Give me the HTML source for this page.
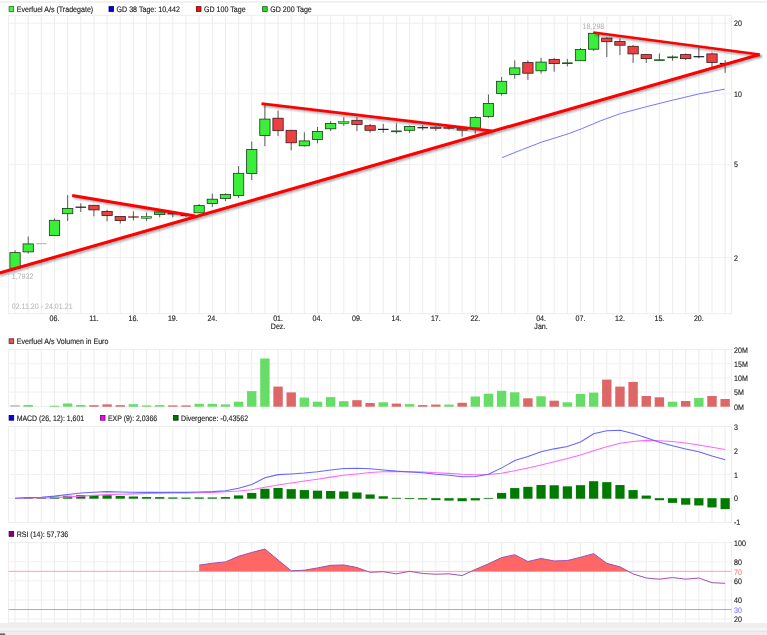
<!DOCTYPE html><html><head><meta charset="utf-8"><title>Chart</title><style>html,body{margin:0;padding:0;background:#fff;}svg{display:block}text{font-family:"Liberation Sans",Arial,sans-serif;font-size:8px;fill:#1c1c1c;stroke:#1c1c1c;stroke-width:0.14px;text-rendering:geometricPrecision}</style></head><body>
<svg width="767" height="635" viewBox="0 0 767 635">
<defs><filter id="sh" x="-5%" y="-5%" width="110%" height="110%"><feGaussianBlur stdDeviation="1.1"/></filter></defs>
<rect width="767" height="635" fill="#fff"/>
<rect x="0" y="1.3" width="767" height="1.4" fill="#ececec"/>
<rect x="0" y="623" width="767" height="12" fill="#eeeeee"/>
<rect x="0" y="627.7" width="767" height="2.9" fill="#f5f5f5"/>
<rect x="0" y="630.6" width="767" height="1.5" fill="#e6e6e6"/>
<rect x="0" y="633.4" width="5.2" height="1.6" fill="#666"/>
<g stroke="#ebebeb" stroke-width="0.9" fill="none"><line x1="15.05" y1="15.3" x2="15.05" y2="313.7"/><line x1="28.20" y1="15.3" x2="28.20" y2="313.7"/><line x1="41.35" y1="15.3" x2="41.35" y2="313.7"/><line x1="54.50" y1="15.3" x2="54.50" y2="313.7"/><line x1="67.65" y1="15.3" x2="67.65" y2="313.7"/><line x1="80.80" y1="15.3" x2="80.80" y2="313.7"/><line x1="93.95" y1="15.3" x2="93.95" y2="313.7"/><line x1="107.10" y1="15.3" x2="107.10" y2="313.7"/><line x1="120.25" y1="15.3" x2="120.25" y2="313.7"/><line x1="133.40" y1="15.3" x2="133.40" y2="313.7"/><line x1="146.55" y1="15.3" x2="146.55" y2="313.7"/><line x1="159.70" y1="15.3" x2="159.70" y2="313.7"/><line x1="172.85" y1="15.3" x2="172.85" y2="313.7"/><line x1="186.00" y1="15.3" x2="186.00" y2="313.7"/><line x1="199.15" y1="15.3" x2="199.15" y2="313.7"/><line x1="212.30" y1="15.3" x2="212.30" y2="313.7"/><line x1="225.45" y1="15.3" x2="225.45" y2="313.7"/><line x1="238.60" y1="15.3" x2="238.60" y2="313.7"/><line x1="251.75" y1="15.3" x2="251.75" y2="313.7"/><line x1="264.90" y1="15.3" x2="264.90" y2="313.7"/><line x1="278.05" y1="15.3" x2="278.05" y2="313.7"/><line x1="291.20" y1="15.3" x2="291.20" y2="313.7"/><line x1="304.35" y1="15.3" x2="304.35" y2="313.7"/><line x1="317.50" y1="15.3" x2="317.50" y2="313.7"/><line x1="330.65" y1="15.3" x2="330.65" y2="313.7"/><line x1="343.80" y1="15.3" x2="343.80" y2="313.7"/><line x1="356.95" y1="15.3" x2="356.95" y2="313.7"/><line x1="370.10" y1="15.3" x2="370.10" y2="313.7"/><line x1="383.25" y1="15.3" x2="383.25" y2="313.7"/><line x1="396.40" y1="15.3" x2="396.40" y2="313.7"/><line x1="409.55" y1="15.3" x2="409.55" y2="313.7"/><line x1="422.70" y1="15.3" x2="422.70" y2="313.7"/><line x1="435.85" y1="15.3" x2="435.85" y2="313.7"/><line x1="449.00" y1="15.3" x2="449.00" y2="313.7"/><line x1="462.15" y1="15.3" x2="462.15" y2="313.7"/><line x1="475.30" y1="15.3" x2="475.30" y2="313.7"/><line x1="488.45" y1="15.3" x2="488.45" y2="313.7"/><line x1="501.60" y1="15.3" x2="501.60" y2="313.7"/><line x1="514.75" y1="15.3" x2="514.75" y2="313.7"/><line x1="527.90" y1="15.3" x2="527.90" y2="313.7"/><line x1="541.05" y1="15.3" x2="541.05" y2="313.7"/><line x1="554.20" y1="15.3" x2="554.20" y2="313.7"/><line x1="567.35" y1="15.3" x2="567.35" y2="313.7"/><line x1="580.50" y1="15.3" x2="580.50" y2="313.7"/><line x1="593.65" y1="15.3" x2="593.65" y2="313.7"/><line x1="606.80" y1="15.3" x2="606.80" y2="313.7"/><line x1="619.95" y1="15.3" x2="619.95" y2="313.7"/><line x1="633.10" y1="15.3" x2="633.10" y2="313.7"/><line x1="646.25" y1="15.3" x2="646.25" y2="313.7"/><line x1="659.40" y1="15.3" x2="659.40" y2="313.7"/><line x1="672.55" y1="15.3" x2="672.55" y2="313.7"/><line x1="685.70" y1="15.3" x2="685.70" y2="313.7"/><line x1="698.85" y1="15.3" x2="698.85" y2="313.7"/><line x1="712.00" y1="15.3" x2="712.00" y2="313.7"/><line x1="725.15" y1="15.3" x2="725.15" y2="313.7"/><line x1="8.6" y1="23.2" x2="731.6" y2="23.2" stroke="#eeeeee"/><line x1="8.6" y1="93.8" x2="731.6" y2="93.8" stroke="#eeeeee"/><line x1="8.6" y1="164.4" x2="731.6" y2="164.4" stroke="#eeeeee"/><line x1="8.6" y1="257.7" x2="731.6" y2="257.7" stroke="#eeeeee"/><rect x="8.6" y="15.3" width="723.0" height="298.4"/></g>
<rect x="9.10" y="6.60" width="4.6" height="4.8" fill="#44f544" stroke="#1e6e1e" stroke-width="0.8"/>
<text transform="translate(16.70 11.70) scale(0.885 1)">Everfuel A/s (Tradegate)</text>
<rect x="109.00" y="6.60" width="4.6" height="4.8" fill="#0000dd" stroke="#000063" stroke-width="0.8"/>
<text transform="translate(116.60 11.70) scale(0.885 1)">GD 38 Tage: 10,442</text>
<rect x="196.40" y="6.60" width="4.6" height="4.8" fill="#ee1111" stroke="#6b0707" stroke-width="0.8"/>
<text transform="translate(204.00 11.70) scale(0.885 1)">GD 100 Tage</text>
<rect x="262.60" y="6.60" width="4.6" height="4.8" fill="#22dd22" stroke="#0f630f" stroke-width="0.8"/>
<text transform="translate(270.20 11.70) scale(0.885 1)">GD 200 Tage</text>
<text transform="translate(734.00 26.20) scale(0.885 1)">20</text>
<text transform="translate(734.00 96.80) scale(0.885 1)">10</text>
<text transform="translate(734.00 167.40) scale(0.885 1)">5</text>
<text transform="translate(734.00 260.70) scale(0.885 1)">2</text>
<text transform="translate(54.50 321.00) scale(0.885 1)" text-anchor="middle">06.</text>
<text transform="translate(93.95 321.00) scale(0.885 1)" text-anchor="middle">11.</text>
<text transform="translate(133.40 321.00) scale(0.885 1)" text-anchor="middle">16.</text>
<text transform="translate(172.85 321.00) scale(0.885 1)" text-anchor="middle">19.</text>
<text transform="translate(212.30 321.00) scale(0.885 1)" text-anchor="middle">24.</text>
<text transform="translate(278.05 321.00) scale(0.885 1)" text-anchor="middle">01.</text>
<text transform="translate(317.50 321.00) scale(0.885 1)" text-anchor="middle">04.</text>
<text transform="translate(356.95 321.00) scale(0.885 1)" text-anchor="middle">09.</text>
<text transform="translate(396.40 321.00) scale(0.885 1)" text-anchor="middle">14.</text>
<text transform="translate(435.85 321.00) scale(0.885 1)" text-anchor="middle">17.</text>
<text transform="translate(475.30 321.00) scale(0.885 1)" text-anchor="middle">22.</text>
<text transform="translate(541.05 321.00) scale(0.885 1)" text-anchor="middle">04.</text>
<text transform="translate(580.50 321.00) scale(0.885 1)" text-anchor="middle">07.</text>
<text transform="translate(619.95 321.00) scale(0.885 1)" text-anchor="middle">12.</text>
<text transform="translate(659.40 321.00) scale(0.885 1)" text-anchor="middle">15.</text>
<text transform="translate(698.85 321.00) scale(0.885 1)" text-anchor="middle">20.</text>
<text transform="translate(278.05 329.00) scale(0.885 1)" text-anchor="middle">Dez.</text>
<text transform="translate(541.05 329.00) scale(0.885 1)" text-anchor="middle">Jan.</text>
<text transform="translate(11.70 278.50) scale(0.885 1)" style="fill:#b0b0b4;stroke:none">1,7932</text>
<text transform="translate(11.70 308.60) scale(0.885 1)" style="fill:#b0b0b4;stroke:none">02.11.20 - 24.01.21</text>
<text transform="translate(582.60 28.70) scale(0.885 1)" style="fill:#b0b0b4;stroke:none">18,298</text>
<polyline fill="none" stroke="#7777ff" stroke-width="1.0" points="502.1,157.6 522.6,149.4 542.2,141.9 568.2,133.8 581.3,128.9 600.8,120.7 620.4,113.6 646.4,106.7 672.5,100.2 698.6,94 724.7,89.1"/>
<line x1="15.05" y1="250.3" x2="15.05" y2="269.2" stroke="#333" stroke-width="0.8"/>
<rect x="9.90" y="252.6" width="10.3" height="15.70" fill="#3aee3a" stroke="#1a3a1a" stroke-width="0.8"/>
<line x1="28.20" y1="236.5" x2="28.20" y2="253.5" stroke="#333" stroke-width="0.8"/>
<rect x="23.05" y="243.9" width="10.3" height="8.00" fill="#3aee3a" stroke="#1a3a1a" stroke-width="0.8"/>
<line x1="36.15" y1="243.7" x2="46.55" y2="243.7" stroke="#999" stroke-width="0.8"/>
<line x1="54.50" y1="218.4" x2="54.50" y2="235.6" stroke="#333" stroke-width="0.8"/>
<rect x="49.35" y="220.3" width="10.3" height="15.30" fill="#3aee3a" stroke="#1a3a1a" stroke-width="0.8"/>
<line x1="67.65" y1="195.1" x2="67.65" y2="221" stroke="#333" stroke-width="0.8"/>
<rect x="62.50" y="208.4" width="10.3" height="5.30" fill="#3aee3a" stroke="#1a3a1a" stroke-width="0.8"/>
<line x1="80.80" y1="203.3" x2="80.80" y2="212" stroke="#333" stroke-width="0.8"/>
<line x1="75.50" y1="207.2" x2="86.10" y2="207.2" stroke="#1a1a1a" stroke-width="1.2"/>
<line x1="93.95" y1="205.3" x2="93.95" y2="216.3" stroke="#333" stroke-width="0.8"/>
<rect x="88.80" y="205.3" width="10.3" height="4.60" fill="#ee4040" stroke="#3a1a1a" stroke-width="0.8"/>
<line x1="107.10" y1="209.7" x2="107.10" y2="221.4" stroke="#333" stroke-width="0.8"/>
<rect x="101.95" y="211.4" width="10.3" height="4.20" fill="#ee4040" stroke="#3a1a1a" stroke-width="0.8"/>
<line x1="120.25" y1="216.5" x2="120.25" y2="223.5" stroke="#333" stroke-width="0.8"/>
<rect x="115.10" y="216.5" width="10.3" height="4.00" fill="#ee4040" stroke="#3a1a1a" stroke-width="0.8"/>
<line x1="133.40" y1="211.3" x2="133.40" y2="220.4" stroke="#333" stroke-width="0.8"/>
<line x1="128.10" y1="217" x2="138.70" y2="217" stroke="#6a1515" stroke-width="1.2"/>
<line x1="146.55" y1="212.6" x2="146.55" y2="221.1" stroke="#333" stroke-width="0.8"/>
<rect x="141.40" y="216.4" width="10.3" height="1.90" fill="#3aee3a" stroke="#1a3a1a" stroke-width="0.5"/>
<line x1="159.70" y1="211.3" x2="159.70" y2="217.3" stroke="#333" stroke-width="0.8"/>
<rect x="154.55" y="211.9" width="10.3" height="2.60" fill="#3aee3a" stroke="#1a3a1a" stroke-width="0.8"/>
<line x1="172.85" y1="211.7" x2="172.85" y2="217.3" stroke="#333" stroke-width="0.8"/>
<line x1="167.55" y1="213.7" x2="178.15" y2="213.7" stroke="#1a1a1a" stroke-width="1.2"/>
<line x1="186.00" y1="214" x2="186.00" y2="217" stroke="#333" stroke-width="0.8"/>
<line x1="180.70" y1="215.4" x2="191.30" y2="215.4" stroke="#1a1a1a" stroke-width="1.2"/>
<line x1="199.15" y1="204.1" x2="199.15" y2="212.8" stroke="#333" stroke-width="0.8"/>
<rect x="194.00" y="205.6" width="10.3" height="7.20" fill="#3aee3a" stroke="#1a3a1a" stroke-width="0.8"/>
<line x1="212.30" y1="193.7" x2="212.30" y2="206.9" stroke="#333" stroke-width="0.8"/>
<rect x="207.15" y="199.2" width="10.3" height="4.30" fill="#3aee3a" stroke="#1a3a1a" stroke-width="0.8"/>
<line x1="225.45" y1="193.3" x2="225.45" y2="201.1" stroke="#333" stroke-width="0.8"/>
<rect x="220.30" y="194.5" width="10.3" height="3.90" fill="#3aee3a" stroke="#1a3a1a" stroke-width="0.8"/>
<line x1="238.60" y1="166" x2="238.60" y2="198" stroke="#333" stroke-width="0.8"/>
<rect x="233.45" y="173.3" width="10.3" height="22.20" fill="#3aee3a" stroke="#1a3a1a" stroke-width="0.8"/>
<line x1="251.75" y1="141.5" x2="251.75" y2="180" stroke="#333" stroke-width="0.8"/>
<rect x="246.60" y="149.4" width="10.3" height="24.20" fill="#3aee3a" stroke="#1a3a1a" stroke-width="0.8"/>
<line x1="264.90" y1="103.6" x2="264.90" y2="146.2" stroke="#333" stroke-width="0.8"/>
<rect x="259.75" y="119.1" width="10.3" height="16.40" fill="#3aee3a" stroke="#1a3a1a" stroke-width="0.8"/>
<line x1="278.05" y1="110.6" x2="278.05" y2="136.1" stroke="#333" stroke-width="0.8"/>
<rect x="272.90" y="118.2" width="10.3" height="12.50" fill="#ee4040" stroke="#3a1a1a" stroke-width="0.8"/>
<line x1="291.20" y1="130.3" x2="291.20" y2="150.3" stroke="#333" stroke-width="0.8"/>
<rect x="286.05" y="130.3" width="10.3" height="12.50" fill="#ee4040" stroke="#3a1a1a" stroke-width="0.8"/>
<line x1="304.35" y1="132.4" x2="304.35" y2="146.5" stroke="#333" stroke-width="0.8"/>
<rect x="299.20" y="140.9" width="10.3" height="4.90" fill="#3aee3a" stroke="#1a3a1a" stroke-width="0.8"/>
<line x1="317.50" y1="126.9" x2="317.50" y2="143.3" stroke="#333" stroke-width="0.8"/>
<rect x="312.35" y="131.4" width="10.3" height="8.00" fill="#3aee3a" stroke="#1a3a1a" stroke-width="0.8"/>
<line x1="330.65" y1="121.2" x2="330.65" y2="131" stroke="#333" stroke-width="0.8"/>
<rect x="325.50" y="123.5" width="10.3" height="5.30" fill="#3aee3a" stroke="#1a3a1a" stroke-width="0.8"/>
<line x1="343.80" y1="117.2" x2="343.80" y2="125.9" stroke="#333" stroke-width="0.8"/>
<rect x="338.65" y="121.6" width="10.3" height="2.10" fill="#3aee3a" stroke="#1a3a1a" stroke-width="0.5"/>
<line x1="356.95" y1="117.2" x2="356.95" y2="131" stroke="#333" stroke-width="0.8"/>
<rect x="351.80" y="120.3" width="10.3" height="4.10" fill="#ee4040" stroke="#3a1a1a" stroke-width="0.8"/>
<line x1="370.10" y1="124" x2="370.10" y2="132.6" stroke="#333" stroke-width="0.8"/>
<rect x="364.95" y="125.7" width="10.3" height="4.60" fill="#ee4040" stroke="#3a1a1a" stroke-width="0.8"/>
<line x1="383.25" y1="123.9" x2="383.25" y2="132.8" stroke="#333" stroke-width="0.8"/>
<line x1="377.95" y1="129.4" x2="388.55" y2="129.4" stroke="#1a1a1a" stroke-width="1.2"/>
<line x1="396.40" y1="123.3" x2="396.40" y2="133.7" stroke="#333" stroke-width="0.8"/>
<line x1="391.10" y1="131.3" x2="401.70" y2="131.3" stroke="#156015" stroke-width="1.6"/>
<line x1="409.55" y1="125.6" x2="409.55" y2="132.8" stroke="#333" stroke-width="0.8"/>
<rect x="404.40" y="126.5" width="10.3" height="3.80" fill="#3aee3a" stroke="#1a3a1a" stroke-width="0.8"/>
<line x1="422.70" y1="125.2" x2="422.70" y2="130.3" stroke="#333" stroke-width="0.8"/>
<line x1="417.40" y1="127.7" x2="428.00" y2="127.7" stroke="#1a1a1a" stroke-width="1.2"/>
<line x1="435.85" y1="125.8" x2="435.85" y2="130.9" stroke="#333" stroke-width="0.8"/>
<rect x="430.70" y="127.1" width="10.3" height="1.50" fill="#ee4040" stroke="#3a1a1a" stroke-width="0.5"/>
<line x1="449.00" y1="126.5" x2="449.00" y2="129.5" stroke="#333" stroke-width="0.8"/>
<rect x="443.85" y="127.5" width="10.3" height="0.90" fill="#ee4040" stroke="#3a1a1a" stroke-width="0.5"/>
<line x1="462.15" y1="127.5" x2="462.15" y2="136.6" stroke="#333" stroke-width="0.8"/>
<rect x="457.00" y="128.4" width="10.3" height="1.90" fill="#ee4040" stroke="#3a1a1a" stroke-width="0.5"/>
<line x1="475.30" y1="116.1" x2="475.30" y2="133.7" stroke="#333" stroke-width="0.8"/>
<rect x="470.15" y="117.5" width="10.3" height="10.50" fill="#3aee3a" stroke="#1a3a1a" stroke-width="0.8"/>
<line x1="488.45" y1="94.4" x2="488.45" y2="117.8" stroke="#333" stroke-width="0.8"/>
<rect x="483.30" y="103.4" width="10.3" height="13.10" fill="#3aee3a" stroke="#1a3a1a" stroke-width="0.8"/>
<line x1="501.60" y1="77" x2="501.60" y2="95.7" stroke="#333" stroke-width="0.8"/>
<rect x="496.45" y="81.3" width="10.3" height="12.10" fill="#3aee3a" stroke="#1a3a1a" stroke-width="0.8"/>
<line x1="514.75" y1="60.4" x2="514.75" y2="78.7" stroke="#333" stroke-width="0.8"/>
<rect x="509.60" y="67.9" width="10.3" height="6.60" fill="#3aee3a" stroke="#1a3a1a" stroke-width="0.8"/>
<line x1="527.90" y1="60.4" x2="527.90" y2="79.8" stroke="#333" stroke-width="0.8"/>
<rect x="522.75" y="62.6" width="10.3" height="10.60" fill="#ee4040" stroke="#3a1a1a" stroke-width="0.8"/>
<line x1="541.05" y1="57.9" x2="541.05" y2="73.6" stroke="#333" stroke-width="0.8"/>
<rect x="535.90" y="62.1" width="10.3" height="8.70" fill="#3aee3a" stroke="#1a3a1a" stroke-width="0.8"/>
<line x1="554.20" y1="57.9" x2="554.20" y2="71.7" stroke="#333" stroke-width="0.8"/>
<rect x="549.05" y="59.4" width="10.3" height="4.20" fill="#ee4040" stroke="#3a1a1a" stroke-width="0.8"/>
<line x1="567.35" y1="58.9" x2="567.35" y2="66.4" stroke="#333" stroke-width="0.8"/>
<line x1="562.05" y1="63.2" x2="572.65" y2="63.2" stroke="#156015" stroke-width="1.6"/>
<line x1="580.50" y1="48.1" x2="580.50" y2="60.7" stroke="#333" stroke-width="0.8"/>
<rect x="575.35" y="49.4" width="10.3" height="11.30" fill="#3aee3a" stroke="#1a3a1a" stroke-width="0.8"/>
<line x1="593.65" y1="32" x2="593.65" y2="50.9" stroke="#333" stroke-width="0.8"/>
<rect x="588.50" y="33.3" width="10.3" height="15.90" fill="#3aee3a" stroke="#1a3a1a" stroke-width="0.8"/>
<line x1="606.80" y1="37.3" x2="606.80" y2="57" stroke="#333" stroke-width="0.8"/>
<rect x="601.65" y="38.1" width="10.3" height="3.60" fill="#ee4040" stroke="#3a1a1a" stroke-width="0.8"/>
<line x1="619.95" y1="38.6" x2="619.95" y2="55.1" stroke="#333" stroke-width="0.8"/>
<rect x="614.80" y="41.5" width="10.3" height="3.70" fill="#ee4040" stroke="#3a1a1a" stroke-width="0.8"/>
<line x1="633.10" y1="45" x2="633.10" y2="62.9" stroke="#333" stroke-width="0.8"/>
<rect x="627.95" y="46.3" width="10.3" height="7.60" fill="#ee4040" stroke="#3a1a1a" stroke-width="0.8"/>
<line x1="646.25" y1="54" x2="646.25" y2="62.9" stroke="#333" stroke-width="0.8"/>
<rect x="641.10" y="54.6" width="10.3" height="4.00" fill="#ee4040" stroke="#3a1a1a" stroke-width="0.8"/>
<line x1="659.40" y1="53.5" x2="659.40" y2="60.7" stroke="#333" stroke-width="0.8"/>
<line x1="654.10" y1="60.1" x2="664.70" y2="60.1" stroke="#156015" stroke-width="1.6"/>
<line x1="672.55" y1="55.4" x2="672.55" y2="60.7" stroke="#333" stroke-width="0.8"/>
<line x1="667.25" y1="57.3" x2="677.85" y2="57.3" stroke="#156015" stroke-width="1.6"/>
<line x1="685.70" y1="53.5" x2="685.70" y2="60.1" stroke="#333" stroke-width="0.8"/>
<rect x="680.55" y="54.6" width="10.3" height="4.00" fill="#ee4040" stroke="#3a1a1a" stroke-width="0.8"/>
<line x1="698.85" y1="47.4" x2="698.85" y2="58.2" stroke="#333" stroke-width="0.8"/>
<line x1="693.55" y1="56.7" x2="704.15" y2="56.7" stroke="#1a1a1a" stroke-width="1.2"/>
<line x1="712.00" y1="52.5" x2="712.00" y2="67.7" stroke="#333" stroke-width="0.8"/>
<rect x="706.85" y="53.9" width="10.3" height="8.50" fill="#ee4040" stroke="#3a1a1a" stroke-width="0.8"/>
<line x1="725.15" y1="60.1" x2="725.15" y2="72.8" stroke="#333" stroke-width="0.8"/>
<line x1="719.85" y1="63.5" x2="730.45" y2="63.5" stroke="#1a1a1a" stroke-width="1.2"/>
<g stroke="#123" stroke-opacity="0.42" stroke-width="2.4" filter="url(#sh)" fill="none">
<line x1="-0.19999999999999996" y1="275.3" x2="761.4" y2="56.199999999999996"/>
<line x1="74.0" y1="197.3" x2="197.10000000000002" y2="217.8"/>
<line x1="263.3" y1="105.39999999999999" x2="493.6" y2="132.70000000000002"/>
<line x1="595.1999999999999" y1="34.199999999999996" x2="761.4" y2="56.199999999999996"/>
</g>
<g stroke="#ff0000" fill="none">
<line x1="-2" y1="273.5" x2="759.6" y2="54.4" stroke-width="3.1"/>
<line x1="72.2" y1="195.5" x2="195.3" y2="216" stroke-width="3.0"/>
<line x1="261.5" y1="103.6" x2="491.8" y2="130.9" stroke-width="2.8"/>
<line x1="593.4" y1="32.4" x2="759.6" y2="54.4" stroke-width="2.5"/>
</g>
<g stroke="#ebebeb" stroke-width="0.9" fill="none"><line x1="15.05" y1="349.45" x2="15.05" y2="406.7"/><line x1="28.20" y1="349.45" x2="28.20" y2="406.7"/><line x1="41.35" y1="349.45" x2="41.35" y2="406.7"/><line x1="54.50" y1="349.45" x2="54.50" y2="406.7"/><line x1="67.65" y1="349.45" x2="67.65" y2="406.7"/><line x1="80.80" y1="349.45" x2="80.80" y2="406.7"/><line x1="93.95" y1="349.45" x2="93.95" y2="406.7"/><line x1="107.10" y1="349.45" x2="107.10" y2="406.7"/><line x1="120.25" y1="349.45" x2="120.25" y2="406.7"/><line x1="133.40" y1="349.45" x2="133.40" y2="406.7"/><line x1="146.55" y1="349.45" x2="146.55" y2="406.7"/><line x1="159.70" y1="349.45" x2="159.70" y2="406.7"/><line x1="172.85" y1="349.45" x2="172.85" y2="406.7"/><line x1="186.00" y1="349.45" x2="186.00" y2="406.7"/><line x1="199.15" y1="349.45" x2="199.15" y2="406.7"/><line x1="212.30" y1="349.45" x2="212.30" y2="406.7"/><line x1="225.45" y1="349.45" x2="225.45" y2="406.7"/><line x1="238.60" y1="349.45" x2="238.60" y2="406.7"/><line x1="251.75" y1="349.45" x2="251.75" y2="406.7"/><line x1="264.90" y1="349.45" x2="264.90" y2="406.7"/><line x1="278.05" y1="349.45" x2="278.05" y2="406.7"/><line x1="291.20" y1="349.45" x2="291.20" y2="406.7"/><line x1="304.35" y1="349.45" x2="304.35" y2="406.7"/><line x1="317.50" y1="349.45" x2="317.50" y2="406.7"/><line x1="330.65" y1="349.45" x2="330.65" y2="406.7"/><line x1="343.80" y1="349.45" x2="343.80" y2="406.7"/><line x1="356.95" y1="349.45" x2="356.95" y2="406.7"/><line x1="370.10" y1="349.45" x2="370.10" y2="406.7"/><line x1="383.25" y1="349.45" x2="383.25" y2="406.7"/><line x1="396.40" y1="349.45" x2="396.40" y2="406.7"/><line x1="409.55" y1="349.45" x2="409.55" y2="406.7"/><line x1="422.70" y1="349.45" x2="422.70" y2="406.7"/><line x1="435.85" y1="349.45" x2="435.85" y2="406.7"/><line x1="449.00" y1="349.45" x2="449.00" y2="406.7"/><line x1="462.15" y1="349.45" x2="462.15" y2="406.7"/><line x1="475.30" y1="349.45" x2="475.30" y2="406.7"/><line x1="488.45" y1="349.45" x2="488.45" y2="406.7"/><line x1="501.60" y1="349.45" x2="501.60" y2="406.7"/><line x1="514.75" y1="349.45" x2="514.75" y2="406.7"/><line x1="527.90" y1="349.45" x2="527.90" y2="406.7"/><line x1="541.05" y1="349.45" x2="541.05" y2="406.7"/><line x1="554.20" y1="349.45" x2="554.20" y2="406.7"/><line x1="567.35" y1="349.45" x2="567.35" y2="406.7"/><line x1="580.50" y1="349.45" x2="580.50" y2="406.7"/><line x1="593.65" y1="349.45" x2="593.65" y2="406.7"/><line x1="606.80" y1="349.45" x2="606.80" y2="406.7"/><line x1="619.95" y1="349.45" x2="619.95" y2="406.7"/><line x1="633.10" y1="349.45" x2="633.10" y2="406.7"/><line x1="646.25" y1="349.45" x2="646.25" y2="406.7"/><line x1="659.40" y1="349.45" x2="659.40" y2="406.7"/><line x1="672.55" y1="349.45" x2="672.55" y2="406.7"/><line x1="685.70" y1="349.45" x2="685.70" y2="406.7"/><line x1="698.85" y1="349.45" x2="698.85" y2="406.7"/><line x1="712.00" y1="349.45" x2="712.00" y2="406.7"/><line x1="725.15" y1="349.45" x2="725.15" y2="406.7"/><line x1="8.6" y1="363.8" x2="731.6" y2="363.8" stroke="#eeeeee"/><line x1="8.6" y1="377.9" x2="731.6" y2="377.9" stroke="#eeeeee"/><line x1="8.6" y1="392.1" x2="731.6" y2="392.1" stroke="#eeeeee"/><rect x="8.6" y="349.45" width="723.0" height="57.25"/></g>
<rect x="9.10" y="338.80" width="4.6" height="4.8" fill="#e05555" stroke="#642626" stroke-width="0.8"/>
<text transform="translate(16.70 343.90) scale(0.885 1)">Everfuel A/s Volumen in Euro</text>
<text transform="translate(734.00 352.50) scale(0.885 1)">20M</text>
<text transform="translate(734.00 366.90) scale(0.885 1)">15M</text>
<text transform="translate(734.00 381.20) scale(0.885 1)">10M</text>
<text transform="translate(734.00 395.40) scale(0.885 1)">5M</text>
<text transform="translate(734.00 409.60) scale(0.885 1)">0M</text>
<rect x="10.35" y="405.20" width="9.4" height="1.5" fill="#bbbbbb"/>
<rect x="23.50" y="405.00" width="9.4" height="1.7" fill="#66dd66"/>
<rect x="36.65" y="406.70" width="9.4" height="0" fill="#66dd66"/>
<rect x="49.80" y="405.70" width="9.4" height="1.0" fill="#66dd66"/>
<rect x="62.95" y="403.50" width="9.4" height="3.2" fill="#66dd66"/>
<rect x="76.10" y="405.00" width="9.4" height="1.7" fill="#66dd66"/>
<rect x="89.25" y="405.20" width="9.4" height="1.5" fill="#dd6666"/>
<rect x="102.40" y="404.40" width="9.4" height="2.3" fill="#dd6666"/>
<rect x="115.55" y="405.20" width="9.4" height="1.5" fill="#dd6666"/>
<rect x="128.70" y="404.20" width="9.4" height="2.5" fill="#66dd66"/>
<rect x="141.85" y="405.40" width="9.4" height="1.3" fill="#66dd66"/>
<rect x="155.00" y="405.10" width="9.4" height="1.6" fill="#66dd66"/>
<rect x="168.15" y="405.40" width="9.4" height="1.3" fill="#dd6666"/>
<rect x="181.30" y="405.40" width="9.4" height="1.3" fill="#dd6666"/>
<rect x="194.45" y="403.80" width="9.4" height="2.9" fill="#66dd66"/>
<rect x="207.60" y="403.80" width="9.4" height="2.9" fill="#66dd66"/>
<rect x="220.75" y="404.40" width="9.4" height="2.3" fill="#66dd66"/>
<rect x="233.90" y="401.70" width="9.4" height="5" fill="#66dd66"/>
<rect x="247.05" y="391.10" width="9.4" height="15.6" fill="#66dd66"/>
<rect x="260.20" y="358.50" width="9.4" height="48.2" fill="#66dd66"/>
<rect x="273.35" y="386.60" width="9.4" height="20.1" fill="#dd6666"/>
<rect x="286.50" y="392.40" width="9.4" height="14.3" fill="#dd6666"/>
<rect x="299.65" y="397.60" width="9.4" height="9.1" fill="#66dd66"/>
<rect x="312.80" y="401.70" width="9.4" height="5" fill="#66dd66"/>
<rect x="325.95" y="397.10" width="9.4" height="9.6" fill="#66dd66"/>
<rect x="339.10" y="401.20" width="9.4" height="5.5" fill="#66dd66"/>
<rect x="352.25" y="400.20" width="9.4" height="6.5" fill="#dd6666"/>
<rect x="365.40" y="403.00" width="9.4" height="3.7" fill="#dd6666"/>
<rect x="378.55" y="402.30" width="9.4" height="4.4" fill="#66dd66"/>
<rect x="391.70" y="403.60" width="9.4" height="3.1" fill="#dd6666"/>
<rect x="404.85" y="404.10" width="9.4" height="2.6" fill="#66dd66"/>
<rect x="418.00" y="405.10" width="9.4" height="1.6" fill="#dd6666"/>
<rect x="431.15" y="404.60" width="9.4" height="2.1" fill="#dd6666"/>
<rect x="444.30" y="404.60" width="9.4" height="2.1" fill="#66dd66"/>
<rect x="457.45" y="402.80" width="9.4" height="3.9" fill="#dd6666"/>
<rect x="470.60" y="396.50" width="9.4" height="10.2" fill="#66dd66"/>
<rect x="483.75" y="393.70" width="9.4" height="13" fill="#66dd66"/>
<rect x="496.90" y="390.80" width="9.4" height="15.9" fill="#66dd66"/>
<rect x="510.05" y="392.30" width="9.4" height="14.4" fill="#66dd66"/>
<rect x="523.20" y="398.30" width="9.4" height="8.4" fill="#dd6666"/>
<rect x="536.35" y="396.30" width="9.4" height="10.4" fill="#66dd66"/>
<rect x="549.50" y="400.70" width="9.4" height="6" fill="#dd6666"/>
<rect x="562.65" y="402.30" width="9.4" height="4.4" fill="#66dd66"/>
<rect x="575.80" y="394.00" width="9.4" height="12.7" fill="#66dd66"/>
<rect x="588.95" y="392.60" width="9.4" height="14.1" fill="#66dd66"/>
<rect x="602.10" y="379.60" width="9.4" height="27.1" fill="#dd6666"/>
<rect x="615.25" y="386.60" width="9.4" height="20.1" fill="#dd6666"/>
<rect x="628.40" y="381.90" width="9.4" height="24.8" fill="#dd6666"/>
<rect x="641.55" y="396.00" width="9.4" height="10.7" fill="#dd6666"/>
<rect x="654.70" y="397.30" width="9.4" height="9.4" fill="#dd6666"/>
<rect x="667.85" y="401.70" width="9.4" height="5" fill="#66dd66"/>
<rect x="681.00" y="401.00" width="9.4" height="5.7" fill="#dd6666"/>
<rect x="694.15" y="398.00" width="9.4" height="8.7" fill="#66dd66"/>
<rect x="707.30" y="396.00" width="9.4" height="10.7" fill="#dd6666"/>
<rect x="720.45" y="399.00" width="9.4" height="7.7" fill="#dd6666"/>
<g stroke="#ebebeb" stroke-width="0.9" fill="none"><line x1="15.05" y1="426.4" x2="15.05" y2="522.4"/><line x1="28.20" y1="426.4" x2="28.20" y2="522.4"/><line x1="41.35" y1="426.4" x2="41.35" y2="522.4"/><line x1="54.50" y1="426.4" x2="54.50" y2="522.4"/><line x1="67.65" y1="426.4" x2="67.65" y2="522.4"/><line x1="80.80" y1="426.4" x2="80.80" y2="522.4"/><line x1="93.95" y1="426.4" x2="93.95" y2="522.4"/><line x1="107.10" y1="426.4" x2="107.10" y2="522.4"/><line x1="120.25" y1="426.4" x2="120.25" y2="522.4"/><line x1="133.40" y1="426.4" x2="133.40" y2="522.4"/><line x1="146.55" y1="426.4" x2="146.55" y2="522.4"/><line x1="159.70" y1="426.4" x2="159.70" y2="522.4"/><line x1="172.85" y1="426.4" x2="172.85" y2="522.4"/><line x1="186.00" y1="426.4" x2="186.00" y2="522.4"/><line x1="199.15" y1="426.4" x2="199.15" y2="522.4"/><line x1="212.30" y1="426.4" x2="212.30" y2="522.4"/><line x1="225.45" y1="426.4" x2="225.45" y2="522.4"/><line x1="238.60" y1="426.4" x2="238.60" y2="522.4"/><line x1="251.75" y1="426.4" x2="251.75" y2="522.4"/><line x1="264.90" y1="426.4" x2="264.90" y2="522.4"/><line x1="278.05" y1="426.4" x2="278.05" y2="522.4"/><line x1="291.20" y1="426.4" x2="291.20" y2="522.4"/><line x1="304.35" y1="426.4" x2="304.35" y2="522.4"/><line x1="317.50" y1="426.4" x2="317.50" y2="522.4"/><line x1="330.65" y1="426.4" x2="330.65" y2="522.4"/><line x1="343.80" y1="426.4" x2="343.80" y2="522.4"/><line x1="356.95" y1="426.4" x2="356.95" y2="522.4"/><line x1="370.10" y1="426.4" x2="370.10" y2="522.4"/><line x1="383.25" y1="426.4" x2="383.25" y2="522.4"/><line x1="396.40" y1="426.4" x2="396.40" y2="522.4"/><line x1="409.55" y1="426.4" x2="409.55" y2="522.4"/><line x1="422.70" y1="426.4" x2="422.70" y2="522.4"/><line x1="435.85" y1="426.4" x2="435.85" y2="522.4"/><line x1="449.00" y1="426.4" x2="449.00" y2="522.4"/><line x1="462.15" y1="426.4" x2="462.15" y2="522.4"/><line x1="475.30" y1="426.4" x2="475.30" y2="522.4"/><line x1="488.45" y1="426.4" x2="488.45" y2="522.4"/><line x1="501.60" y1="426.4" x2="501.60" y2="522.4"/><line x1="514.75" y1="426.4" x2="514.75" y2="522.4"/><line x1="527.90" y1="426.4" x2="527.90" y2="522.4"/><line x1="541.05" y1="426.4" x2="541.05" y2="522.4"/><line x1="554.20" y1="426.4" x2="554.20" y2="522.4"/><line x1="567.35" y1="426.4" x2="567.35" y2="522.4"/><line x1="580.50" y1="426.4" x2="580.50" y2="522.4"/><line x1="593.65" y1="426.4" x2="593.65" y2="522.4"/><line x1="606.80" y1="426.4" x2="606.80" y2="522.4"/><line x1="619.95" y1="426.4" x2="619.95" y2="522.4"/><line x1="633.10" y1="426.4" x2="633.10" y2="522.4"/><line x1="646.25" y1="426.4" x2="646.25" y2="522.4"/><line x1="659.40" y1="426.4" x2="659.40" y2="522.4"/><line x1="672.55" y1="426.4" x2="672.55" y2="522.4"/><line x1="685.70" y1="426.4" x2="685.70" y2="522.4"/><line x1="698.85" y1="426.4" x2="698.85" y2="522.4"/><line x1="712.00" y1="426.4" x2="712.00" y2="522.4"/><line x1="725.15" y1="426.4" x2="725.15" y2="522.4"/><line x1="8.6" y1="450.4" x2="731.6" y2="450.4" stroke="#eeeeee"/><line x1="8.6" y1="474.4" x2="731.6" y2="474.4" stroke="#eeeeee"/><line x1="8.6" y1="498.2" x2="731.6" y2="498.2" stroke="#eeeeee"/><rect x="8.6" y="426.4" width="723.0" height="96.0"/></g>
<rect x="9.10" y="415.40" width="4.6" height="4.8" fill="#0000dd" stroke="#000063" stroke-width="0.8"/>
<text transform="translate(16.70 420.50) scale(0.866 1)">MACD (26, 12): 1,601</text>
<rect x="100.40" y="415.40" width="4.6" height="4.8" fill="#ff00ff" stroke="#720072" stroke-width="0.8"/>
<text transform="translate(108.00 420.50) scale(0.866 1)">EXP (9): 2,0366</text>
<rect x="173.50" y="415.40" width="4.6" height="4.8" fill="#007700" stroke="#003500" stroke-width="0.8"/>
<text transform="translate(181.10 420.50) scale(0.875 1)">Divergence: -0,43562</text>
<text transform="translate(734.00 430.00) scale(0.885 1)">3</text>
<text transform="translate(734.00 453.70) scale(0.885 1)">2</text>
<text transform="translate(734.00 477.70) scale(0.885 1)">1</text>
<text transform="translate(734.00 501.40) scale(0.885 1)">0</text>
<text transform="translate(734.00 525.40) scale(0.885 1)">-1</text>
<rect x="23.60" y="497.74" width="9.2" height="0.96" fill="#007a00"/>
<rect x="36.75" y="497.53" width="9.2" height="1.17" fill="#007a00"/>
<rect x="49.90" y="496.69" width="9.2" height="2.01" fill="#007a00"/>
<rect x="63.05" y="495.76" width="9.2" height="2.94" fill="#007a00"/>
<rect x="76.20" y="495.01" width="9.2" height="3.69" fill="#007a00"/>
<rect x="89.35" y="495.04" width="9.2" height="3.66" fill="#007a00"/>
<rect x="102.50" y="495.21" width="9.2" height="3.49" fill="#007a00"/>
<rect x="115.65" y="495.92" width="9.2" height="2.78" fill="#007a00"/>
<rect x="128.80" y="496.52" width="9.2" height="2.18" fill="#007a00"/>
<rect x="141.95" y="497.07" width="9.2" height="1.63" fill="#007a00"/>
<rect x="155.10" y="497.12" width="9.2" height="1.58" fill="#007a00"/>
<rect x="168.25" y="497.46" width="9.2" height="1.24" fill="#007a00"/>
<rect x="181.40" y="497.63" width="9.2" height="1.07" fill="#007a00"/>
<rect x="194.55" y="497.43" width="9.2" height="1.27" fill="#007a00"/>
<rect x="207.70" y="497.46" width="9.2" height="1.24" fill="#007a00"/>
<rect x="220.85" y="497.07" width="9.2" height="1.63" fill="#007a00"/>
<rect x="234.00" y="495.40" width="9.2" height="3.30" fill="#007a00"/>
<rect x="247.15" y="492.91" width="9.2" height="5.79" fill="#007a00"/>
<rect x="260.30" y="488.79" width="9.2" height="9.91" fill="#007a00"/>
<rect x="273.45" y="487.93" width="9.2" height="10.77" fill="#007a00"/>
<rect x="286.60" y="489.15" width="9.2" height="9.55" fill="#007a00"/>
<rect x="299.75" y="490.08" width="9.2" height="8.62" fill="#007a00"/>
<rect x="312.90" y="490.66" width="9.2" height="8.04" fill="#007a00"/>
<rect x="326.05" y="491.01" width="9.2" height="7.68" fill="#007a00"/>
<rect x="339.20" y="491.45" width="9.2" height="7.25" fill="#007a00"/>
<rect x="352.35" y="492.52" width="9.2" height="6.18" fill="#007a00"/>
<rect x="365.50" y="494.46" width="9.2" height="4.24" fill="#007a00"/>
<rect x="378.65" y="496.28" width="9.2" height="2.42" fill="#007a00"/>
<rect x="391.80" y="497.86" width="9.2" height="0.84" fill="#007a00"/>
<rect x="404.95" y="498.20" width="9.2" height="0.86" fill="#007a00"/>
<rect x="418.10" y="498.20" width="9.2" height="1.22" fill="#007a00"/>
<rect x="431.25" y="498.20" width="9.2" height="1.94" fill="#007a00"/>
<rect x="444.40" y="498.20" width="9.2" height="2.39" fill="#007a00"/>
<rect x="457.55" y="498.20" width="9.2" height="3.01" fill="#007a00"/>
<rect x="470.70" y="498.20" width="9.2" height="2.18" fill="#007a00"/>
<rect x="483.85" y="497.95" width="9.2" height="0.75" fill="#007a00"/>
<rect x="497.00" y="492.93" width="9.2" height="5.77" fill="#007a00"/>
<rect x="510.15" y="488.07" width="9.2" height="10.63" fill="#007a00"/>
<rect x="523.30" y="486.82" width="9.2" height="11.88" fill="#007a00"/>
<rect x="536.45" y="485.03" width="9.2" height="13.67" fill="#007a00"/>
<rect x="549.60" y="485.27" width="9.2" height="13.43" fill="#007a00"/>
<rect x="562.75" y="486.34" width="9.2" height="12.36" fill="#007a00"/>
<rect x="575.90" y="485.17" width="9.2" height="13.53" fill="#007a00"/>
<rect x="589.05" y="481.20" width="9.2" height="17.50" fill="#007a00"/>
<rect x="602.20" y="482.15" width="9.2" height="16.55" fill="#007a00"/>
<rect x="615.35" y="485.03" width="9.2" height="13.67" fill="#007a00"/>
<rect x="628.50" y="490.10" width="9.2" height="8.60" fill="#007a00"/>
<rect x="641.65" y="495.57" width="9.2" height="3.13" fill="#007a00"/>
<rect x="654.80" y="498.20" width="9.2" height="2.03" fill="#007a00"/>
<rect x="667.95" y="498.20" width="9.2" height="4.67" fill="#007a00"/>
<rect x="681.10" y="498.20" width="9.2" height="6.49" fill="#007a00"/>
<rect x="694.25" y="498.20" width="9.2" height="7.28" fill="#007a00"/>
<rect x="707.40" y="498.20" width="9.2" height="9.22" fill="#007a00"/>
<rect x="720.55" y="498.20" width="9.2" height="10.93" fill="#007a00"/>
<polyline fill="none" stroke="#ff66ff" stroke-width="1.05" points="15.05,498.20 28.20,498.08 41.35,497.91 54.50,497.63 67.65,496.88 80.80,496.12 93.95,495.37 107.10,494.61 120.25,494.25 133.40,493.89 146.55,493.48 159.70,493.29 172.85,493.10 186.00,492.93 199.15,492.74 212.30,492.36 225.45,491.78 238.60,491.01 251.75,489.72 264.90,487.25 278.05,484.91 291.20,482.99 304.35,481.10 317.50,479.21 330.65,477.12 343.80,475.26 356.95,473.94 370.10,472.57 383.25,471.85 396.40,471.47 409.55,471.62 422.70,472.09 435.85,472.81 449.00,473.36 462.15,474.25 475.30,474.73 488.45,474.49 501.60,473.17 514.75,470.73 527.90,467.90 541.05,464.91 554.20,461.80 567.35,458.44 580.50,455.09 593.65,450.78 606.80,446.78 619.95,443.35 633.10,441.49 646.25,440.36 659.40,440.72 672.55,441.58 685.70,443.00 698.85,445.08 712.00,447.33 725.15,449.42"/>
<polyline fill="none" stroke="#6666ff" stroke-width="1.05" points="15.05,498.20 28.20,497.63 41.35,497.24 54.50,496.12 67.65,494.44 80.80,492.93 93.95,492.21 107.10,491.61 120.25,491.97 133.40,492.21 146.55,492.36 159.70,492.21 172.85,492.36 186.00,492.36 199.15,491.97 212.30,491.61 225.45,490.66 238.60,488.21 251.75,484.43 264.90,477.84 278.05,474.63 291.20,473.94 304.35,472.98 317.50,471.66 330.65,469.94 343.80,468.50 356.95,468.26 370.10,468.84 383.25,469.94 396.40,471.14 409.55,471.97 422.70,472.81 435.85,474.25 449.00,475.26 462.15,476.76 475.30,476.41 488.45,474.25 501.60,467.90 514.75,460.60 527.90,456.53 541.05,451.74 554.20,448.86 567.35,446.59 580.50,442.06 593.65,433.77 606.80,430.73 619.95,430.18 633.10,433.39 646.25,437.73 659.40,442.25 672.55,445.75 685.70,448.98 698.85,451.86 712.00,456.05 725.15,459.86"/>
<g stroke="#ebebeb" stroke-width="0.9" fill="none"><line x1="15.05" y1="542.6" x2="15.05" y2="622.9"/><line x1="28.20" y1="542.6" x2="28.20" y2="622.9"/><line x1="41.35" y1="542.6" x2="41.35" y2="622.9"/><line x1="54.50" y1="542.6" x2="54.50" y2="622.9"/><line x1="67.65" y1="542.6" x2="67.65" y2="622.9"/><line x1="80.80" y1="542.6" x2="80.80" y2="622.9"/><line x1="93.95" y1="542.6" x2="93.95" y2="622.9"/><line x1="107.10" y1="542.6" x2="107.10" y2="622.9"/><line x1="120.25" y1="542.6" x2="120.25" y2="622.9"/><line x1="133.40" y1="542.6" x2="133.40" y2="622.9"/><line x1="146.55" y1="542.6" x2="146.55" y2="622.9"/><line x1="159.70" y1="542.6" x2="159.70" y2="622.9"/><line x1="172.85" y1="542.6" x2="172.85" y2="622.9"/><line x1="186.00" y1="542.6" x2="186.00" y2="622.9"/><line x1="199.15" y1="542.6" x2="199.15" y2="622.9"/><line x1="212.30" y1="542.6" x2="212.30" y2="622.9"/><line x1="225.45" y1="542.6" x2="225.45" y2="622.9"/><line x1="238.60" y1="542.6" x2="238.60" y2="622.9"/><line x1="251.75" y1="542.6" x2="251.75" y2="622.9"/><line x1="264.90" y1="542.6" x2="264.90" y2="622.9"/><line x1="278.05" y1="542.6" x2="278.05" y2="622.9"/><line x1="291.20" y1="542.6" x2="291.20" y2="622.9"/><line x1="304.35" y1="542.6" x2="304.35" y2="622.9"/><line x1="317.50" y1="542.6" x2="317.50" y2="622.9"/><line x1="330.65" y1="542.6" x2="330.65" y2="622.9"/><line x1="343.80" y1="542.6" x2="343.80" y2="622.9"/><line x1="356.95" y1="542.6" x2="356.95" y2="622.9"/><line x1="370.10" y1="542.6" x2="370.10" y2="622.9"/><line x1="383.25" y1="542.6" x2="383.25" y2="622.9"/><line x1="396.40" y1="542.6" x2="396.40" y2="622.9"/><line x1="409.55" y1="542.6" x2="409.55" y2="622.9"/><line x1="422.70" y1="542.6" x2="422.70" y2="622.9"/><line x1="435.85" y1="542.6" x2="435.85" y2="622.9"/><line x1="449.00" y1="542.6" x2="449.00" y2="622.9"/><line x1="462.15" y1="542.6" x2="462.15" y2="622.9"/><line x1="475.30" y1="542.6" x2="475.30" y2="622.9"/><line x1="488.45" y1="542.6" x2="488.45" y2="622.9"/><line x1="501.60" y1="542.6" x2="501.60" y2="622.9"/><line x1="514.75" y1="542.6" x2="514.75" y2="622.9"/><line x1="527.90" y1="542.6" x2="527.90" y2="622.9"/><line x1="541.05" y1="542.6" x2="541.05" y2="622.9"/><line x1="554.20" y1="542.6" x2="554.20" y2="622.9"/><line x1="567.35" y1="542.6" x2="567.35" y2="622.9"/><line x1="580.50" y1="542.6" x2="580.50" y2="622.9"/><line x1="593.65" y1="542.6" x2="593.65" y2="622.9"/><line x1="606.80" y1="542.6" x2="606.80" y2="622.9"/><line x1="619.95" y1="542.6" x2="619.95" y2="622.9"/><line x1="633.10" y1="542.6" x2="633.10" y2="622.9"/><line x1="646.25" y1="542.6" x2="646.25" y2="622.9"/><line x1="659.40" y1="542.6" x2="659.40" y2="622.9"/><line x1="672.55" y1="542.6" x2="672.55" y2="622.9"/><line x1="685.70" y1="542.6" x2="685.70" y2="622.9"/><line x1="698.85" y1="542.6" x2="698.85" y2="622.9"/><line x1="712.00" y1="542.6" x2="712.00" y2="622.9"/><line x1="725.15" y1="542.6" x2="725.15" y2="622.9"/><line x1="8.6" y1="561.8000000000001" x2="731.6" y2="561.8000000000001" stroke="#eeeeee"/><line x1="8.6" y1="580.9000000000001" x2="731.6" y2="580.9000000000001" stroke="#eeeeee"/><line x1="8.6" y1="600.0" x2="731.6" y2="600.0" stroke="#eeeeee"/><line x1="8.6" y1="619.1" x2="731.6" y2="619.1" stroke="#eeeeee"/><rect x="8.6" y="542.6" width="723.0" height="80.29999999999995"/></g>
<rect x="9.10" y="531.50" width="4.6" height="4.8" fill="#800080" stroke="#390039" stroke-width="0.8"/>
<text transform="translate(16.70 536.60) scale(0.877 1)">RSI (14): 57,736</text>
<text transform="translate(734.00 546.00) scale(0.885 1)">100</text>
<text transform="translate(734.00 565.10) scale(0.885 1)">80</text>
<text transform="translate(734.00 574.65) scale(0.885 1)" style="fill:#ff8080;stroke:#ff8080">70</text>
<text transform="translate(734.00 584.20) scale(0.885 1)">60</text>
<text transform="translate(734.00 603.30) scale(0.885 1)">40</text>
<text transform="translate(734.00 612.85) scale(0.885 1)" style="fill:#8080ff;stroke:#8080ff">30</text>
<text transform="translate(734.00 622.40) scale(0.885 1)">20</text>
<line x1="8.6" y1="571.35" x2="731.6" y2="571.35" stroke="#ff9999" stroke-width="0.9"/>
<line x1="8.6" y1="609.55" x2="731.6" y2="609.55" stroke="#9999ff" stroke-width="0.9"/>
<clipPath id="c70"><rect x="0" y="542.6" width="767" height="28.75"/></clipPath>
<polygon clip-path="url(#c70)" fill="#ff6666" points="199.15,576.35 199.15,565.14 212.30,563.23 225.45,561.90 238.60,556.26 251.75,552.44 264.90,549.00 278.05,559.99 291.20,570.78 304.35,570.20 317.50,567.91 330.65,565.33 343.80,564.95 356.95,567.53 370.10,572.31 383.25,571.73 396.40,573.83 409.55,571.35 422.70,573.45 435.85,574.22 449.00,573.83 462.15,575.55 475.30,569.44 488.45,563.81 501.60,557.60 514.75,554.73 527.90,561.51 541.05,558.46 554.20,560.94 567.35,560.56 580.50,557.22 593.65,553.68 606.80,563.33 619.95,566.86 633.10,573.93 646.25,578.04 659.40,579.18 672.55,577.56 685.70,579.18 698.85,578.04 712.00,582.71 725.15,583.29 725.15,576.35"/>
<polyline fill="none" stroke="#a050b0" stroke-width="1.0" points="199.15,565.14 212.30,563.23 225.45,561.90 238.60,556.26 251.75,552.44 264.90,549.00 278.05,559.99 291.20,570.78 304.35,570.20 317.50,567.91 330.65,565.33 343.80,564.95 356.95,567.53 370.10,572.31 383.25,571.73 396.40,573.83 409.55,571.35 422.70,573.45 435.85,574.22 449.00,573.83 462.15,575.55 475.30,569.44 488.45,563.81 501.60,557.60 514.75,554.73 527.90,561.51 541.05,558.46 554.20,560.94 567.35,560.56 580.50,557.22 593.65,553.68 606.80,563.33 619.95,566.86 633.10,573.93 646.25,578.04 659.40,579.18 672.55,577.56 685.70,579.18 698.85,578.04 712.00,582.71 725.15,583.29"/>
</svg></body></html>
